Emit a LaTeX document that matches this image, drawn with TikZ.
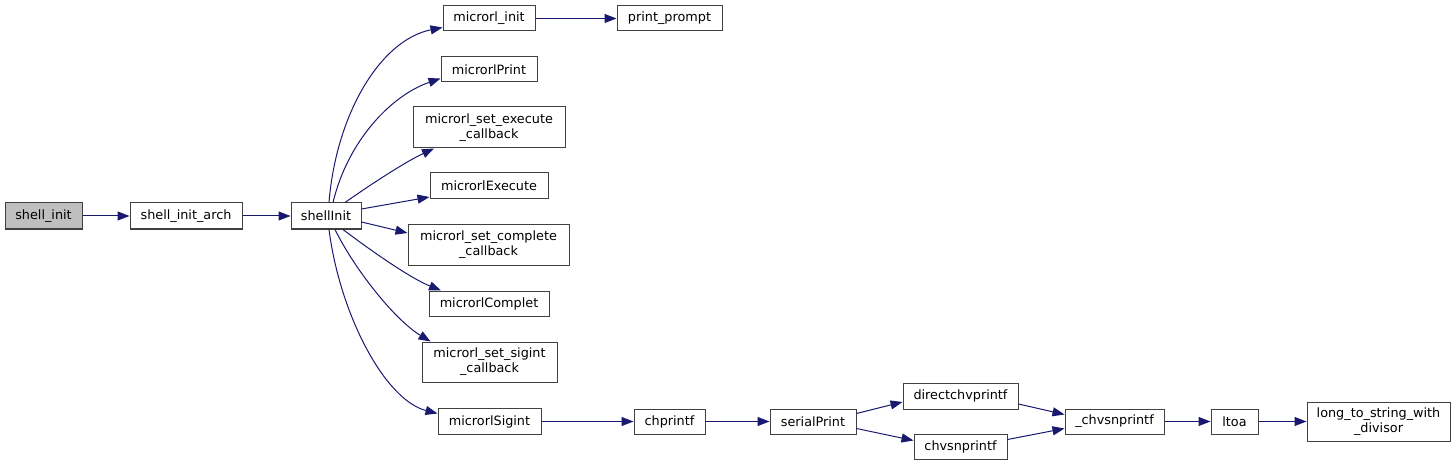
\documentclass[tikz,border=0pt]{standalone}
\usepackage{fontspec}
\setmainfont{DejaVu Sans}
\usetikzlibrary{arrows.meta,calc}
\definecolor{edgec}{HTML}{191970}
\definecolor{boxc}{HTML}{404040}
\definecolor{curc}{HTML}{BFBFBF}
\begin{document}
\begin{tikzpicture}[x=1pt,y=-1pt,
  fn/.style={draw=boxc,line width=1pt,fill=white,inner sep=0pt,align=center,
    font=\fontsize{12.8}{15}\selectfont},
  cur/.style={fn,fill=curc},
  call/.style={draw=edgec,line width=1pt,-{Triangle[length=12pt,width=9pt]}}]
\useasboundingbox (0,0) rectangle (1456,465);
\node[cur,minimum width=77pt,minimum height=26pt] (si) at (43.5,216) {shell\_init};
\node[fn,minimum width=112pt,minimum height=26pt] (sia) at (186,216) {shell\_init\_arch};
\node[fn,minimum width=70pt,minimum height=26pt] (sI) at (326,216) {shellInit};
\node[fn,minimum width=92pt,minimum height=25pt] (mi) at (489,18.5) {microrl\_init};
\node[fn,minimum width=105pt,minimum height=25pt] (pp) at (669.5,18.5) {print\_prompt};
\node[fn,minimum width=96pt,minimum height=25pt] (mP) at (489,69.5) {microrlPrint};
\node[fn,minimum width=152pt,minimum height=41pt] (mse) at (489,127.5) {microrl\_set\_execute\\\_callback};
\node[fn,minimum width=118pt,minimum height=26pt] (mE) at (489,186) {microrlExecute};
\node[fn,minimum width=161pt,minimum height=40pt] (msc) at (488.5,245) {microrl\_set\_complete\\\_callback};
\node[fn,minimum width=120pt,minimum height=25pt] (mC) at (489,303.5) {microrlComplet};
\node[fn,minimum width=135pt,minimum height=40pt] (mss) at (489.5,362) {microrl\_set\_sigint\\\_callback};
\node[fn,minimum width=103pt,minimum height=26pt] (mS) at (489.5,421.5) {microrlSigint};
\node[fn,minimum width=71pt,minimum height=25pt] (chp) at (669.5,421.5) {chprintf};
\node[fn,minimum width=86pt,minimum height=25pt] (sP) at (813,421.5) {serialPrint};
\node[fn,minimum width=115pt,minimum height=26pt] (dcv) at (960.5,396) {directchvprintf};
\node[fn,minimum width=93pt,minimum height=25pt] (cvs) at (960.5,446.5) {chvsnprintf};
\node[fn,minimum width=99pt,minimum height=25pt] (uc) at (1114.5,421.5) {\_chvsnprintf};
\node[fn,minimum width=47pt,minimum height=25pt] (lt) at (1234.5,421.5) {ltoa};
\node[fn,minimum width=143pt,minimum height=39pt] (lts) at (1378.5,421.5) {long\_to\_string\_with\\\_divisor};

\draw[call] (si.east) -- (sia.west);
\draw[call] (sia.east) -- (sI.west);
\draw[call] ($(sI.north)+(3,0)$) .. controls (336,115) and (380,40) .. ($(mi.west)+(0,9)$);
\draw[call] ($(sI.north)+(7,0)$) .. controls (348,140) and (392,95) .. ($(mP.west)+(0,9)$);
\draw[call] ($(sI.north)+(19,0)$) .. controls (370,185) and (405,162) .. ($(mse.south)+(-55,0)$);
\draw[call] ($(sI.east)+(0,-7)$) -- ($(mE.west)+(0,11)$);
\draw[call] ($(sI.east)+(0,6)$) -- ($(msc.west)+(0,-12)$);
\draw[call] ($(sI.south)+(17,0)$) .. controls (370,250) and (410,278) .. ($(mC.north)+(-48,0)$);
\draw[call] ($(sI.south)+(9,0)$) .. controls (355,270) and (395,320) .. ($(mss.north)+(-59,0)$);
\draw[call] ($(sI.south)+(3,0)$) .. controls (340,315) and (385,400) .. ($(mS.west)+(0,-8)$);
\draw[call] (mi.east) -- (pp.west);
\draw[call] (mS.east) -- (chp.west);
\draw[call] (chp.east) -- (sP.west);
\draw[call] ($(sP.east)+(0,-8)$) -- ($(dcv.west)+(0,6)$);
\draw[call] ($(sP.east)+(0,7)$) -- ($(cvs.west)+(0,-6)$);
\draw[call] ($(dcv.east)+(0,8)$) -- ($(uc.west)+(0,-7)$);
\draw[call] ($(cvs.east)+(0,-7)$) -- ($(uc.west)+(0,7)$);
\draw[call] (uc.east) -- (lt.west);
\draw[call] (lt.east) -- (lts.west);
\end{tikzpicture}
\end{document}
